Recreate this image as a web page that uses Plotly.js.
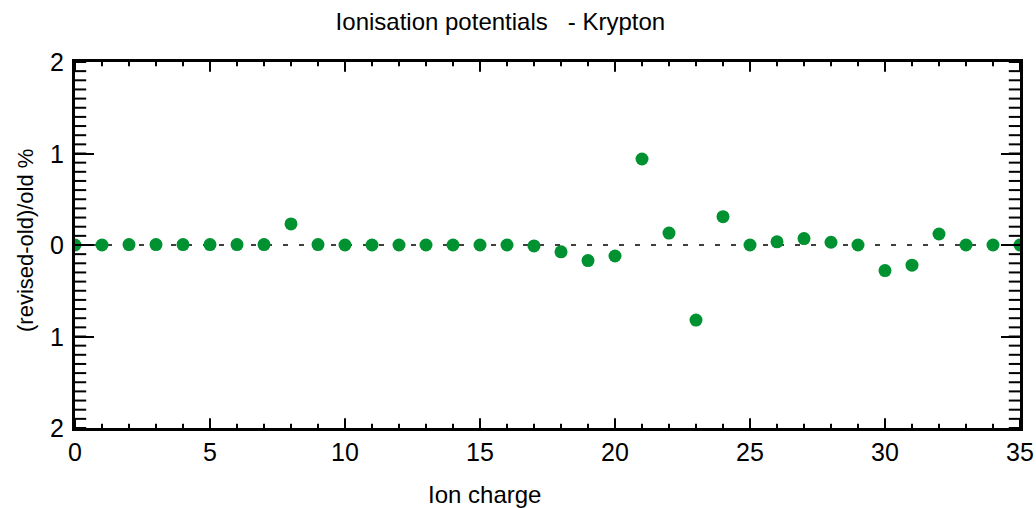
<!DOCTYPE html>
<html>
<head>
<meta charset="utf-8">
<script src="https://cdn.plot.ly/plotly-3.0.1.min.js"></script>
<style>html,body{margin:0;padding:0;background:#fff;}#chart{width:1036px;height:508px;}</style>
</head>
<body>
<div id="chart"></div>
<script>
const ionCharge = [0,1,2,3,4,5,6,7,8,9,10,11,12,13,14,15,16,17,18,19,20,21,22,23,24,25,26,27,28,29,30,31,32,33,34,35];
const relDiff = [0,0,0.005,0.005,0.005,0.005,0.005,0.005,0.23,0.005,0,0,0,0,0,0,0,-0.01,-0.075,-0.17,-0.12,0.94,0.13,-0.82,0.31,0,0.035,0.07,0.03,0,-0.28,-0.22,0.12,0,0,0];
const refLineX = [0,35];
const refLineY = [0,0];
const yTickVals = [-2,-1,0,1,2];
const yTickText = ["2","1","0","1","2"];
const xTickVals = [0,5,10,15,20,25,30,35];
const titleText = 'Ionisation potentials&nbsp;&nbsp; - Krypton';
const xTitleText = 'Ion charge';
const yTitleText = '(revised-old)/old %';

const font = "Liberation Sans, Arial, sans-serif";
const X_RANGE = [0, 35], Y_RANGE = [-2, 2];

// minor tick positions (axis values, not data)
const xMinor = [];
for (let v = X_RANGE[0]; v <= X_RANGE[1] + 1e-9; v += 1) xMinor.push(v);
const yMinor = [];
for (let k = -20; k <= 20; k++) yMinor.push(k / 10);

function tickTrace(xs, ys, symbol, size) {
  return {x: xs, y: ys, mode: 'markers', hoverinfo: 'skip', showlegend: false, cliponaxis: true,
    marker: {symbol: symbol, size: size, color: '#000', line: {color: '#000', width: 2}}};
}
const fill = (n, v) => Array(n).fill(v);

const traces = [
  tickTrace(xMinor, fill(xMinor.length, Y_RANGE[0]), 'line-ns-open', 6),
  tickTrace(xMinor, fill(xMinor.length, Y_RANGE[1]), 'line-ns-open', 6),
  tickTrace(xTickVals, fill(xTickVals.length, Y_RANGE[0]), 'line-ns-open', 14),
  tickTrace(xTickVals, fill(xTickVals.length, Y_RANGE[1]), 'line-ns-open', 14),
  tickTrace(fill(yMinor.length, X_RANGE[0]), yMinor, 'line-ew-open', 16),
  tickTrace(fill(yMinor.length, X_RANGE[1]), yMinor, 'line-ew-open', 16),
  {x: refLineX, y: refLineY, mode: 'lines', line: {color: '#000', width: 1.5, dash: '5px,11px'}, hoverinfo: 'skip', showlegend: false},
  {x: ionCharge, y: relDiff, mode: 'markers', marker: {color: 'rgb(0,146,48)', size: 13}, showlegend: false}
];
const yLabelAnnotations = yTickVals.map(function(v, i){
  return {text: yTickText[i], xref: 'paper', yref: 'y', x: (66-75)/945, y: v, xanchor: 'right', yanchor: 'middle', showarrow: false, font: {family: font, size: 25, color: '#000'}};
});
const layout = {
  width: 1036, height: 508,
  margin: {l: 75, r: 16, t: 62, b: 80},
  title: {text: titleText, font: {family: font, size: 24, color: '#000'}, xref: 'container', x: 0.483, xanchor: 'center', yref: 'container', y: 0.957, yanchor: 'middle'},
  xaxis: {
    range: X_RANGE, dtick: 5, ticks: 'inside', ticklen: 7, tickwidth: 2, tickcolor: '#000',
    showline: true, linewidth: 3, linecolor: '#000', mirror: 'ticks', showgrid: false, zeroline: false,
    tickfont: {family: font, size: 25, color: '#000'}
  },
  yaxis: {
    range: Y_RANGE, dtick: 1, ticks: 'inside', ticklen: 19, tickwidth: 2, tickcolor: '#000',
    showline: true, linewidth: 3, linecolor: '#000', mirror: 'ticks', showgrid: false, zeroline: false,
    showticklabels: false
  },
  annotations: yLabelAnnotations.concat([
    {text: xTitleText, xref: 'paper', yref: 'paper', x: (484-75)/945, y: (428-494)/366, xanchor: 'center', yanchor: 'middle', showarrow: false, font: {family: font, size: 24, color: '#000'}},
    {text: yTitleText, xref: 'paper', yref: 'paper', x: (25-75)/945, y: (428-241)/366, xanchor: 'center', yanchor: 'middle', textangle: -90, showarrow: false, font: {family: font, size: 22, color: '#000'}}
  ])
};
Plotly.newPlot('chart', traces, layout, {displayModeBar: false});
</script>
</body>
</html>
